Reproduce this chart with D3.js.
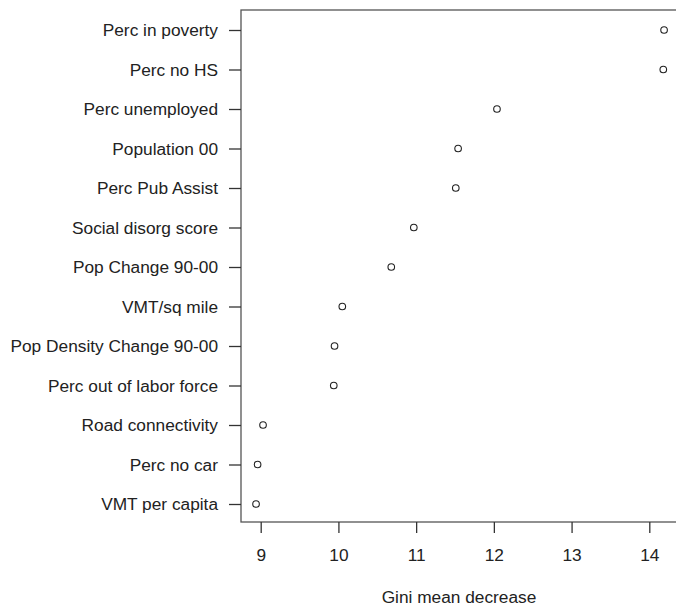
<!DOCTYPE html>
<html lang="en">
<head>
    <meta charset="UTF-8">
    <title>Gini mean decrease</title>
    <script src="https://d3js.org/d3.v7.min.js"></script>
    <style>
        body { margin: 0; background: #fff; }
        svg text { font-family: "Liberation Sans", Arial, sans-serif; fill: #222; }
    </style>
</head>
<body>
    <svg width="676" height="610"></svg>
    <script>
        // variable names, top to bottom
        const variables = ["Perc in poverty", "Perc no HS", "Perc unemployed", "Population 00",
            "Perc Pub Assist", "Social disorg score", "Pop Change 90-00", "VMT/sq mile",
            "Pop Density Change 90-00", "Perc out of labor force", "Road connectivity",
            "Perc no car", "VMT per capita"];
        const giniValues = [14.19, 14.18, 12.04, 11.54, 11.51, 10.97, 10.68, 10.05,
            9.95, 9.94, 9.03, 8.96, 8.94];
        const xTicks = [9, 10, 11, 12, 13, 14];

        const svg = d3.select("svg");
        const boxLeft = 241, boxTop = 10, boxBottom = 522, boxRight = 690;
        const fontSize = 17.3;

        // x scale: 9 -> 260.7, 14 -> 649.3
        const x = d3.scaleLinear().domain([9, 14]).range([260.7, 649.3]);
        const y = d3.scalePoint().domain(variables).range([30, 504]);

        // box
        svg.append("rect")
            .attr("x", boxLeft).attr("y", boxTop)
            .attr("width", boxRight - boxLeft).attr("height", boxBottom - boxTop)
            .attr("fill", "none").attr("stroke", "#555").attr("stroke-width", 1.3);

        // x axis
        const xAxis = svg.append("g").attr("transform", `translate(0,${boxBottom})`)
            .call(d3.axisBottom(x).tickValues(xTicks).tickSize(11).tickPadding(16).tickFormat(d3.format("d")));
        xAxis.select(".domain").remove();
        xAxis.selectAll("line").attr("stroke", "#333").attr("stroke-width", 1.3);
        xAxis.selectAll("text").attr("font-size", fontSize);

        // y axis
        const yAxis = svg.append("g").attr("transform", `translate(${boxLeft},0)`)
            .call(d3.axisLeft(y).tickSize(12).tickPadding(11));
        yAxis.select(".domain").remove();
        yAxis.selectAll("line").attr("stroke", "#333").attr("stroke-width", 1.3);
        yAxis.selectAll("text").attr("font-size", fontSize);

        // points
        svg.append("g").selectAll("circle")
            .data(variables)
            .join("circle")
            .attr("cx", (d, i) => x(giniValues[i]))
            .attr("cy", d => y(d))
            .attr("r", 3.3)
            .attr("fill", "none")
            .attr("stroke", "#222")
            .attr("stroke-width", 1.1);

        // x label
        svg.append("text")
            .attr("x", 459).attr("y", 603)
            .attr("text-anchor", "middle")
            .attr("font-size", fontSize)
            .text("Gini mean decrease");
    </script>
</body>
</html>
